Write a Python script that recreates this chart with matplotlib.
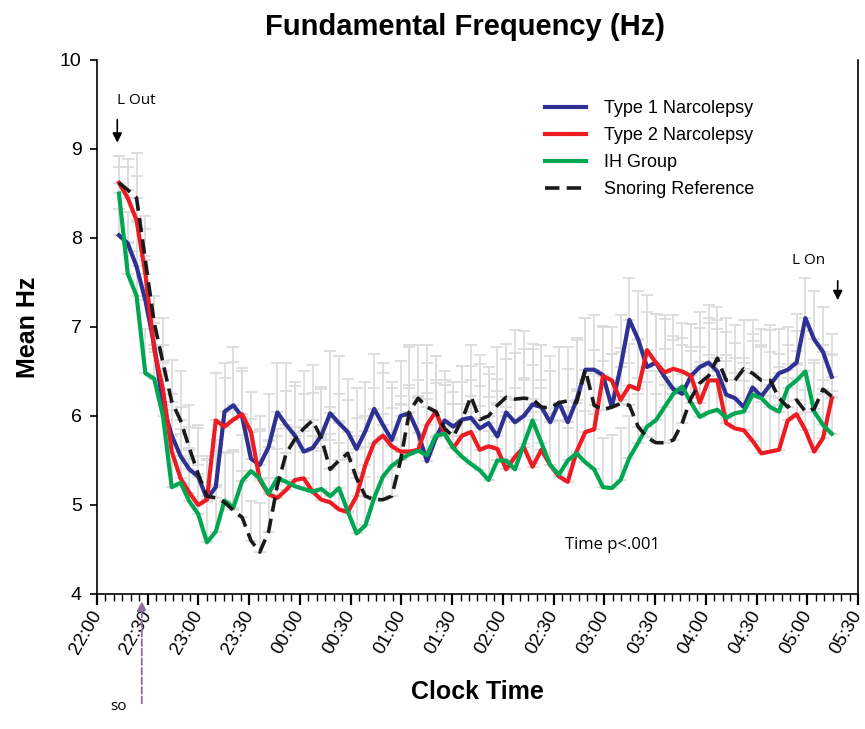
import numpy as np
import matplotlib
matplotlib.use('Agg')
import matplotlib.pyplot as plt
import matplotlib.transforms as mtransforms

plt.rcParams['font.family'] = ['Liberation Sans', 'DejaVu Sans']

# minutes after 22:00 for each sample
times = np.linspace(13, 434.5, 82)

type1 = [8.03, 7.94, 7.68, 7.30, 6.80, 6.12, 5.78, 5.55, 5.40, 5.32,
         5.07, 5.20, 6.05, 6.12, 5.99, 5.52, 5.45, 5.65, 6.04, 5.90,
         5.78, 5.60, 5.64, 5.78, 6.03, 5.92, 5.82, 5.63, 5.83, 6.08,
         5.90, 5.73, 6.00, 6.03, 5.81, 5.49, 5.75, 5.95, 5.88, 5.96,
         5.98, 5.86, 5.92, 5.77, 6.04, 5.93, 6.00, 6.13, 6.10, 5.93,
         6.15, 5.93, 6.18, 6.52, 6.52, 6.46, 6.10, 6.55, 7.08, 6.86,
         6.55, 6.60, 6.44, 6.30, 6.25, 6.45, 6.55, 6.60, 6.50, 6.24,
         6.20, 6.10, 6.32, 6.22, 6.35, 6.48, 6.52, 6.60, 7.10, 6.86,
         6.72, 6.44]

type2 = [8.62, 8.45, 8.20, 7.60, 6.75, 6.30, 5.60, 5.30, 5.14, 5.00,
         5.06, 5.95, 5.88, 5.96, 6.02, 5.82, 5.28, 5.12, 5.08, 5.17,
         5.28, 5.30, 5.15, 5.06, 5.03, 4.95, 4.92, 5.10, 5.45, 5.70,
         5.78, 5.66, 5.60, 5.60, 5.62, 5.90, 6.05, 5.80, 5.64, 5.78,
         5.82, 5.62, 5.66, 5.63, 5.40, 5.54, 5.65, 5.43, 5.62, 5.45,
         5.32, 5.26, 5.60, 5.82, 5.85, 6.45, 6.40, 6.18, 6.34, 6.30,
         6.74, 6.60, 6.49, 6.53, 6.50, 6.45, 6.15, 6.40, 6.40, 5.92,
         5.86, 5.84, 5.72, 5.58, 5.60, 5.62, 5.95, 6.02, 5.84, 5.60,
         5.75, 6.20]

ih_group = [8.50, 7.60, 7.35, 6.48, 6.42, 6.00, 5.20, 5.25, 5.04, 4.90,
            4.58, 4.70, 5.05, 4.97, 5.27, 5.38, 5.30, 5.13, 5.30, 5.26,
            5.21, 5.18, 5.15, 5.18, 5.10, 5.19, 4.93, 4.68, 4.77, 5.08,
            5.32, 5.44, 5.51, 5.57, 5.61, 5.56, 5.78, 5.80, 5.64, 5.54,
            5.46, 5.39, 5.28, 5.50, 5.50, 5.40, 5.68, 5.95, 5.70, 5.45,
            5.34, 5.50, 5.58, 5.48, 5.40, 5.20, 5.19, 5.28, 5.53, 5.70,
            5.88, 5.95, 6.10, 6.25, 6.33, 6.15, 5.99, 6.04, 6.07, 5.98,
            6.03, 6.05, 6.24, 6.20, 6.10, 6.05, 6.32, 6.40, 6.50, 6.05,
            5.90, 5.80]

snoring = [8.62, 8.54, 8.45, 7.75, 7.05, 6.60, 6.16, 5.95, 5.64, 5.35,
           5.10, 5.08, 5.03, 4.94, 4.86, 4.60, 4.47, 4.70, 5.22, 5.58,
           5.74, 5.86, 5.95, 5.75, 5.40, 5.50, 5.58, 5.30, 5.10, 5.06,
           5.06, 5.10, 5.50, 6.05, 6.20, 6.10, 6.05, 5.86, 5.77, 5.96,
           6.22, 5.96, 6.00, 6.12, 6.21, 6.19, 6.20, 6.19, 6.10, 6.09,
           6.15, 6.17, 6.15, 6.52, 6.12, 6.07, 6.10, 6.14, 6.12, 5.88,
           5.76, 5.70, 5.70, 5.73, 5.92, 6.20, 6.37, 6.45, 6.65, 6.40,
           6.40, 6.53, 6.48, 6.40, 6.40, 6.20, 6.10, 6.18, 6.05, 6.08,
           6.30, 6.22]

# upper standard error, roughly the same for every group
sem = [0.30, 0.35, 0.50, 0.50, 0.30, 0.50, 0.47, 0.55, 0.48, 0.55,
       0.45, 0.53, 0.55, 0.65, 0.52, 0.45, 0.55, 0.60, 0.55, 0.70,
       0.60, 0.65, 0.62, 0.55, 0.70, 0.75, 0.60, 0.68, 0.55, 0.62,
       0.70, 0.65, 0.62, 0.75, 0.60, 0.70, 0.62, 0.55, 0.50, 0.60,
       0.58, 0.72, 0.55, 0.65, 0.60, 0.78, 0.75, 0.62, 0.70, 0.58,
       0.62, 0.60, 0.70, 0.58, 0.62, 0.55, 0.60, 0.58, 0.47, 0.55,
       0.62, 0.55, 0.65, 0.60, 0.55, 0.58, 0.62, 0.65, 0.58, 0.70,
       0.62, 0.55, 0.60, 0.58, 0.62, 0.50, 0.48, 0.55, 0.45, 0.55,
       0.50, 0.48]

tick_labels = ['22:00', '22:30', '23:00', '23:30', '00:00', '00:30',
               '01:00', '01:30', '02:00', '02:30', '03:00', '03:30',
               '04:00', '04:30', '05:00', '05:30']

series = [
    ('Type 1 Narcolepsy', type1, '#2E3192', '-'),
    ('Type 2 Narcolepsy', type2, '#ED1C24', '-'),
    ('IH Group', ih_group, '#00A651', '-'),
    ('Snoring Reference', snoring, '#1A1A1A', '--'),
]

fig = plt.figure(figsize=(8.65, 7.29), dpi=100)
ax = fig.add_axes([0.1121, 0.1852, 0.8798, 0.7325])

zero = np.zeros(len(sem))
for name, vals, color, ls in series:
    ax.errorbar(times, vals, yerr=[zero, sem], fmt='none', ecolor='#DCDCDC',
                elinewidth=1.3, capsize=4, capthick=1.3, zorder=1)

handles = []
for k, (name, vals, color, ls) in enumerate(series):
    if ls == '--':
        line, = ax.plot(times, vals, color=color, lw=2.6, dashes=(4, 2),
                        zorder=6, label=name)
    else:
        line, = ax.plot(times, vals, color=color, lw=3, zorder=3 + k,
                        label=name, solid_joinstyle='round')
    handles.append(line)

ax.set_xlim(0, 450)
ax.set_ylim(4, 10)
ax.set_xticks(np.arange(0, 451, 30))
ax.set_xticks(np.arange(0, 451, 5), minor=True)
ax.set_xticklabels(tick_labels, rotation=60, ha='right', va='top',
                   rotation_mode='anchor', fontsize=13.5)
ax.set_yticks(np.arange(4, 11, 1))
ax.tick_params(axis='y', labelsize=14, length=5, width=1.2, direction='out', pad=6)
ax.tick_params(axis='x', which='major', length=8, width=1.6, direction='out', pad=2)
ax.tick_params(axis='x', which='minor', length=5, width=1.0, direction='out')
ax.spines['top'].set_visible(False)
for s in ('left', 'bottom', 'right'):
    ax.spines[s].set_linewidth(1.2)
shift = mtransforms.ScaledTranslation(-7 / 100, 0, fig.dpi_scale_trans)
for lab in ax.xaxis.get_majorticklabels():
    lab.set_transform(lab.get_transform() + shift)

fig.text(465 / 865, 1 - 27 / 729, 'Fundamental Frequency (Hz)', fontsize=21,
         fontweight='bold', ha='center', va='center')
ax.set_ylabel('Mean Hz', fontsize=18, fontweight='bold', labelpad=14)
ax.set_xlabel('Clock Time', fontsize=18, fontweight='bold', labelpad=16)

ax.legend(handles=handles, loc='upper left', bbox_to_anchor=(0.567, 0.955),
          frameon=False, fontsize=13, handlelength=2.3, labelspacing=0.55,
          handletextpad=1.0)

note_font = ['Open Sans', 'DejaVu Sans']
ax.text(12, 9.55, 'L Out', fontsize=11, family=note_font, ha='left', va='center')
ax.annotate('', xy=(12, 9.04), xytext=(12, 9.36),
            arrowprops=dict(arrowstyle='-|>', color='black', lw=1.2,
                            mutation_scale=14))
ax.text(421, 7.75, 'L On', fontsize=11, family=note_font, ha='center', va='center')
ax.annotate('', xy=(438, 7.27), xytext=(438, 7.55),
            arrowprops=dict(arrowstyle='-|>', color='black', lw=1.2,
                            mutation_scale=14))
ax.text(305, 4.55, 'Time p<.001', fontsize=12, family=note_font,
        ha='center', va='center')

so_x = 26.5
ax.annotate('', xy=(so_x, 3.95), xycoords='data',
            xytext=(so_x, 2.74), textcoords='data',
            arrowprops=dict(arrowstyle='-|>', color='#8E6C9E', lw=1.3,
                            linestyle='--', mutation_scale=14),
            annotation_clip=False)
ax.text(so_x - 14, 2.74, 'so', fontsize=11, family=note_font,
        ha='center', va='center', clip_on=False)

fig.savefig('out.png', dpi=100)
